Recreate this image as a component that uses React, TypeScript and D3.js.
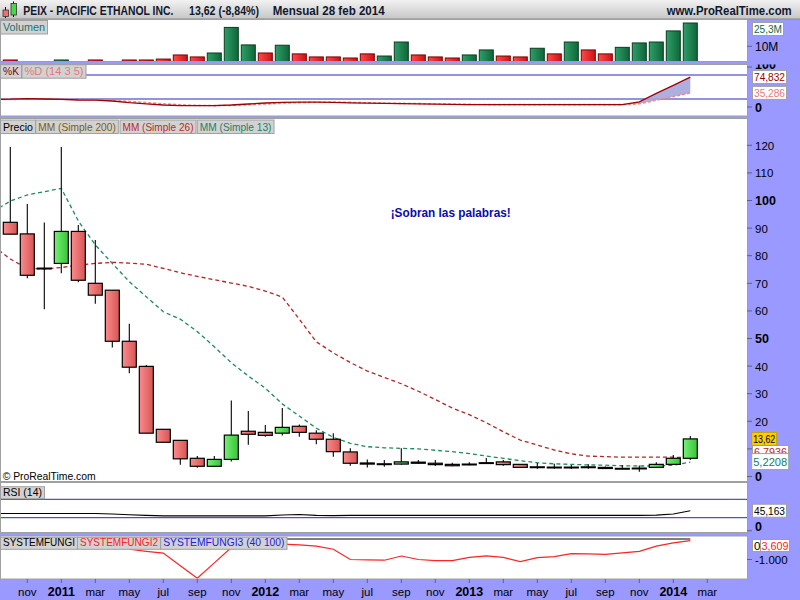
import React from "react";
import * as d3 from "d3";

// ---- DATA (monthly, oct 2010 .. feb 2014) ----
const openP = [92.1, 87.9, 75.5, 77.2, 88.8, 70.0, 67.5, 49.0, 39.9, 17.1, 13.1, 6.6, 3.7, 6.2, 16.4, 16.0, 15.7, 18.2, 15.7, 13.5, 8.9, 4.9, 4.5, 4.5, 5.2, 4.8, 4.4, 4.2, 4.9, 5.3, 4.4, 3.3, 3.4, 3.2, 3.5, 3.3, 2.85, 2.85, 3.3, 4.4, 6.6];
const highP = [119.4, 98.7, 92.0, 119.4, 91.1, 85.7, 67.5, 55.3, 40.4, 17.1, 13.1, 7.4, 7.4, 27.5, 23.7, 18.7, 24.8, 18.8, 16.8, 15.7, 10.2, 6.2, 6.0, 10.2, 6.0, 6.0, 5.0, 5.2, 6.7, 6.0, 4.4, 4.9, 4.6, 4.2, 4.4, 3.6, 4.1, 4.0, 5.2, 7.8, 14.7];
const lowP = [87.8, 71.8, 60.6, 73.6, 70.4, 62.6, 46.7, 37.4, 15.7, 12.4, 4.3, 3.2, 3.4, 5.4, 11.5, 14.4, 14.9, 14.4, 11.7, 7.2, 3.9, 3.3, 3.5, 4.3, 4.6, 3.8, 3.7, 4.1, 4.8, 3.9, 3.3, 2.8, 2.8, 2.7, 2.8, 2.8, 2.7, 1.7, 3.2, 4.4, 6.0];
const closeP = [87.8, 72.9, 75.3, 88.8, 71.1, 65.7, 49.0, 39.6, 15.7, 12.4, 6.4, 3.7, 6.2, 15.0, 15.3, 14.9, 17.8, 16.0, 13.5, 9.0, 4.8, 4.5, 4.6, 5.3, 4.8, 4.3, 3.9, 4.5, 5.0, 4.3, 3.3, 3.5, 3.2, 3.4, 3.2, 2.9, 2.95, 3.05, 4.4, 6.6, 13.62];
const volumeM = [1.0, 0, 0, 1.0, 0, 1.0, 0, 1.0, 1.0, 1.6, 4.3, 3.0, 5.6, 22.4, 10.9, 5.6, 10.7, 5.0, 3.0, 3.0, 2.3, 5.0, 3.6, 12.8, 4.3, 3.0, 2.3, 4.3, 7.6, 3.6, 3.0, 8.7, 5.0, 12.8, 7.6, 5.0, 9.3, 12.2, 12.8, 20.1, 25.3];
// indicator series start one month earlier (sep 2010)
const ma13 = [96, 99.8, 102, 103.2, 104.4, 92.6, 83.9, 77.2, 70.6, 65.1, 59.7, 57, 52.5, 47, 41.2, 36.4, 32, 26.3, 21.9, 17.5, 14.2, 12, 10.8, 10.4, 10.2, 10, 9.5, 9.0, 8.3, 7.4, 6.6, 5.7, 5.0, 4.6, 4.4, 4.2, 4.1, 3.9, 3.8, 3.8, 4.1, 5.22];
const ma26 = [83.5, 78.8, 75.4, 75.2, 75.7, 76.6, 77.2, 77.6, 77.3, 76.9, 75.4, 73.8, 72.5, 71.3, 70.1, 68.9, 67.2, 65.0, 57.0, 48.8, 44.8, 41.3, 38.2, 35.9, 33.6, 30.9, 27.9, 24.8, 22.4, 19.5, 16.2, 13.2, 11.4, 9.6, 8.2, 7.4, 7.2, 7.0, 7.0, 7.0, 7.0, 6.8];
const stochK = [19, 19.5, 21, 20, 19, 17.5, 17, 15, 11, 8, 5, 3.5, 3.3, 3.5, 5, 7.5, 10, 11.5, 12, 12, 11.5, 10.5, 9.5, 9, 8.5, 8, 7, 6.5, 6, 6, 6, 6, 6, 6, 6, 6, 6, 6, 13, 34, 54, 74.832];
const stochD = [19, 19, 19.5, 20, 20, 19, 18, 16.5, 14, 11, 8, 5.5, 4, 3.5, 4, 5.5, 7.5, 9.5, 11, 12, 12, 11.5, 10.5, 9.5, 9, 8.5, 7.5, 7, 6.5, 6, 6, 6, 6, 6, 6, 6, 6, 6, 8, 17, 26, 35.286];
const rsi14 = [39, 39, 39, 39, 39, 39, 39, 38, 36.5, 35, 34, 34, 34, 34, 34, 34, 34, 36, 37, 35, 34.5, 35, 35, 35, 35, 35, 35, 35, 35, 35, 35, 35, 35, 35, 35, 35, 35, 35, 35, 35.5, 38, 45.163];
const fungi1 = [0, 0, 0, 0, 0, 0, 0, 0, 0, 0, 0, 0, 0, 0, 0, 0, 0, 0, 0, 0, 0, 0, 0, 0, 0, 0, 0, 0, 0, 0, 0, 0, 0, 0, 0, 0, 0, 0, 0, 0, 0, 0];
// fungi2 starts at may 2011 (index 7)
const fungi2 = [-500, -600, -685, -1300, -1915, -1165, -420, -250, -230, -250, -290, -350, -500, -1000, -1020, -1035, -830, -1000, -1050, -1050, -900, -820, -900, -1100, -910, -860, -715, -730, -750, -680, -600, -350, -185, -83.609];
const tickIdx = [1, 3, 5, 7, 9, 11, 13, 15, 17, 19, 21, 23, 25, 27, 29, 31, 33, 35, 37, 39, 41];
const tickLabels = ["nov", "2011", "mar", "may", "jul", "sep", "nov", "2012", "mar", "may", "jul", "sep", "nov", "2013", "mar", "may", "jul", "sep", "nov", "2014", "mar"];
const priceTicks = [0, 10, 20, 30, 40, 50, 60, 70, 80, 90, 100, 110, 120];

const FONT = "'Liberation Sans', Arial, sans-serif";
const BLUE = "#9999ff";
const PR = 747;
const PANELS = {
  vol: { top: 19.5, bottom: 61.5 },
  stoch: { top: 64.5, bottom: 116 },
  price: { top: 118.5, bottom: 481.5 },
  rsi: { top: 482.5, bottom: 532.5 },
  sf: { top: 536, bottom: 579 },
};

type Pt = [number, number];

function LabelBox({ x, y, w, h, text, color }: any) {
  return (
    <g>
      <rect x={x} y={y} width={w} height={h} fill="#d2d2d2" stroke="#a0a0a0" strokeWidth={1} />
      <text x={x + 2.5} y={y + h - 3} fontSize={11.5} fill={color} fontFamily={FONT} textLength={w - 5} lengthAdjust="spacingAndGlyphs">{text}</text>
    </g>
  );
}

function ValueBox({ x, cy, w, h = 13, text, color, fill = "#ffffff", stroke = "#a0a0a0" }: any) {
  return (
    <g>
      <rect x={x} y={cy - h / 2} width={w} height={h} fill={fill} stroke={stroke} strokeWidth={1} />
      <text x={x + 1.5} y={cy + 4} fontSize={11.5} fill={color} fontFamily={FONT} textLength={w - 3} lengthAdjust="spacingAndGlyphs">{text}</text>
    </g>
  );
}

export default function App() {
  const x = d3.scaleLinear().domain([0, 40]).range([10.3, 690.3]);
  const yP = d3.scaleLinear().domain([0, 120]).range([476.5, 145.3]);
  const yV = d3.scaleLinear().domain([0, 25.3]).range([61.5, 23]);
  const yS = d3.scaleLinear().domain([0, 100]).range([107, 67]);
  const yR = d3.scaleLinear().domain([0, 100]).range([531.5, 485.5]);
  const yF = d3.scaleLinear().domain([-1000, 0]).range([559.5, 539]);

  const fromM1 = (arr: number[]): Pt[] => arr.map((v, k) => [k - 1, v]);
  const mk = (ys: d3.ScaleLinear<number, number>) => d3.line<Pt>().x((d) => x(d[0])).y((d) => ys(d[1]));

  const lineP = mk(yP);
  const lineS = mk(yS);
  const lineR = mk(yR);
  const lineF = mk(yF);

  const areaKD = d3
    .area<number>()
    .x((k) => x(k - 1))
    .y0((k) => yS(stochD[k]))
    .y1((k) => yS(stochK[k]));
  const kdIdx = d3.range(37, 42);

  const fungi2Pts: Pt[] = fungi2.map((v, k) => [k + 7, v]);

  const panelRect = (p: { top: number; bottom: number }, key: string) => (
    <rect key={key} x={0.5} y={p.top} width={PR} height={p.bottom - p.top} fill="#ffffff" stroke="#a0a0a0" strokeWidth={1} />
  );

  const clip = (id: string, p: { top: number; bottom: number }) => (
    <clipPath id={id} key={id}>
      <rect x={1} y={p.top + 0.5} width={PR - 1} height={p.bottom - p.top - 1} />
    </clipPath>
  );
  const aclip = (id: string, p: { top: number; bottom: number }) => (
    <clipPath id={id} key={id}>
      <rect x={PR} y={p.top} width={800 - PR} height={p.bottom - p.top} />
    </clipPath>
  );

  return (
    <svg width={800} height={600} style={{ position: "fixed", left: 0, top: 0 }} fontFamily={FONT}>
      <defs>
        <linearGradient id="hdr" x1="0" y1="0" x2="0" y2="1">
          <stop offset="0" stopColor="#f2f2f2" />
          <stop offset="1" stopColor="#c6c6c6" />
        </linearGradient>
        <linearGradient id="gRed" x1="0" y1="0" x2="1" y2="0">
          <stop offset="0" stopColor="#fa8c8c" />
          <stop offset="1" stopColor="#d85454" />
        </linearGradient>
        <linearGradient id="gGreen" x1="0" y1="0" x2="1" y2="0">
          <stop offset="0" stopColor="#74f274" />
          <stop offset="1" stopColor="#3ac23a" />
        </linearGradient>
        <linearGradient id="vRed" x1="0" y1="0" x2="1" y2="0">
          <stop offset="0" stopColor="#ff4a4a" />
          <stop offset="1" stopColor="#cc1212" />
        </linearGradient>
        <linearGradient id="vGreen" x1="0" y1="0" x2="1" y2="0">
          <stop offset="0" stopColor="#2f9e68" />
          <stop offset="1" stopColor="#0f6638" />
        </linearGradient>
        {clip("cVol", PANELS.vol)}
        {clip("cStoch", PANELS.stoch)}
        {clip("cPrice", PANELS.price)}
        {clip("cRsi", PANELS.rsi)}
        {clip("cSf", PANELS.sf)}
        {aclip("aStoch", PANELS.stoch)}
        {aclip("aPrice", PANELS.price)}
        {aclip("aRsi", PANELS.rsi)}
      </defs>

      <rect x={0} y={0} width={800} height={600} fill={BLUE} />

      {/* header */}
      <rect x={0} y={0} width={800} height={19} fill="url(#hdr)" />
      <line x1={0} x2={800} y1={19} y2={19} stroke="#8a8a8a" />
      <line x1={5.5} x2={5.5} y1={7} y2={18} stroke="#000" />
      <rect x={3} y={10} width={5.5} height={6.5} fill="#f07070" stroke="#333" strokeWidth={0.8} />
      <line x1={13.5} x2={13.5} y1={1.5} y2={17} stroke="#000" />
      <rect x={11} y={3.5} width={5.5} height={11.5} fill="#4ad84a" stroke="#333" strokeWidth={0.8} />
      <text x={23.3} y={15} fontSize={12} fontWeight="bold" fill="#101830" textLength={150} lengthAdjust="spacingAndGlyphs">PEIX - PACIFIC ETHANOL INC.</text>
      <text x={189} y={15} fontSize={12} fontWeight="bold" fill="#101830" textLength={70} lengthAdjust="spacingAndGlyphs">13,62 (-8,84%)</text>
      <text x={272.7} y={15} fontSize={12} fontWeight="bold" fill="#101830" textLength={112} lengthAdjust="spacingAndGlyphs">Mensual  28 feb 2014</text>
      <text x={666.7} y={15} fontSize={12} fontWeight="bold" fill="#101830" textLength={125} lengthAdjust="spacingAndGlyphs">www.ProRealTime.com</text>

      {/* panels */}
      {panelRect(PANELS.vol, "pv")}
      {panelRect(PANELS.stoch, "ps")}
      {panelRect(PANELS.price, "pp")}
      {panelRect(PANELS.rsi, "pr")}
      {panelRect(PANELS.sf, "pf")}

      {/* volume */}
      <g clipPath="url(#cVol)">
        {volumeM.map((v, i) => {
          if (v <= 0) return null;
          const up = i === 0 ? closeP[i] >= openP[i] : closeP[i] >= closeP[i - 1];
          const y0 = yV(v);
          return (
            <rect key={i} x={x(i) - 7} y={y0} width={14} height={yV(0) - y0} fill={up ? "url(#vGreen)" : "url(#vRed)"} stroke={up ? "#0a3d1f" : "#7a0000"} strokeWidth={1} />
          );
        })}
      </g>
      <LabelBox x={0.5} y={20.5} w={47} h={13.5} text="Volumen" color="#1f6f6f" />
      <line x1={PR} x2={752} y1={yV(10)} y2={yV(10)} stroke="#606080" />
      <text x={755} y={yV(10) + 4.5} fontSize={12} fill="#000">10M</text>
      <ValueBox x={752.5} cy={Math.max(yV(25.3), PANELS.vol.top + 9.5)} w={31} text="25,3M" color="#0f6a4a" />

      {/* stochastic */}
      <g clipPath="url(#cStoch)">
        <line x1={0} x2={PR} y1={yS(80)} y2={yS(80)} stroke="#2828b8" strokeWidth={1} />
        <line x1={0} x2={PR} y1={yS(20)} y2={yS(20)} stroke="#2828b8" strokeWidth={1} />
        <path d={areaKD(kdIdx) || ""} fill="#a4a6dc" opacity={0.9} />
        <path d={lineS(fromM1(stochD)) || ""} fill="none" stroke="#ef8a8a" strokeWidth={1.6} strokeDasharray="3,2" />
        <path d={lineS(fromM1(stochK)) || ""} fill="none" stroke="#a00000" strokeWidth={1.3} />
      </g>
      <LabelBox x={0.5} y={64.7} w={21} h={13.5} text="%K" color="#8a0000" />
      <LabelBox x={22} y={64.7} w={64} h={13.5} text="%D (14 3 5)" color="#e07878" />
      <g clipPath="url(#aStoch)">
        <line x1={PR} x2={752} y1={yS(100)} y2={yS(100)} stroke="#606080" />
        <text x={755} y={yS(100) + 2} fontSize={12.5} fontWeight="bold" fill="#000">100</text>
        <line x1={PR} x2={752} y1={yS(0)} y2={yS(0)} stroke="#606080" />
        <text x={755} y={yS(0) + 4.5} fontSize={12.5} fontWeight="bold" fill="#000">0</text>
      </g>
      <ValueBox x={752.5} cy={yS(74.832)} w={34} text="74,832" color="#a00000" />
      <ValueBox x={752.5} cy={yS(35.286)} w={34} text="35,286" color="#e87878" />

      {/* price */}
      <g clipPath="url(#cPrice)">
        <path d={lineP(fromM1(ma26)) || ""} fill="none" stroke="#b22626" strokeWidth={1.3} strokeDasharray="4,3" />
        <path d={lineP(fromM1(ma13)) || ""} fill="none" stroke="#1f8a5c" strokeWidth={1.3} strokeDasharray="4,3" />
        {openP.map((o, i) => {
          const c = closeP[i];
          const cx = x(i);
          const up = c >= o;
          const yT = yP(Math.max(o, c));
          const yB = yP(Math.min(o, c));
          return (
            <g key={i}>
              <line x1={cx} x2={cx} y1={yP(highP[i])} y2={yP(lowP[i])} stroke="#000" strokeWidth={1.1} />
              <rect x={cx - 7} y={yT} width={14} height={Math.max(yB - yT, 0.8)} fill={up ? "url(#gGreen)" : "url(#gRed)"} stroke="#000" strokeWidth={1.2} />
            </g>
          );
        })}
        <text x={390.7} y={217} fontSize={12.5} fontWeight="bold" fill="#0a0ab4" textLength={120} lengthAdjust="spacingAndGlyphs">¡Sobran las palabras!</text>
        <text x={2.7} y={480} fontSize={11.5} fill="#000" textLength={93} lengthAdjust="spacingAndGlyphs">© ProRealTime.com</text>
      </g>
      <LabelBox x={0.5} y={120} w={35} h={13.5} text="Precio" color="#000" />
      <LabelBox x={35.7} y={120} w={82.6} h={13.5} text="MM (Simple 200)" color="#7a5c10" />
      <LabelBox x={120} y={120} w={76} h={13.5} text="MM (Simple 26)" color="#c02828" />
      <LabelBox x={197.3} y={120} w={76.7} h={13.5} text="MM (Simple 13)" color="#1a7f6a" />
      <g clipPath="url(#aPrice)">
        {priceTicks.map((t) => {
          const bold = t % 50 === 0;
          return (
            <g key={t}>
              <line x1={PR} x2={752} y1={yP(t)} y2={yP(t)} stroke="#606080" />
              {t !== 10 && (
                <text x={755} y={yP(t) + 4.5} fontSize={bold ? 12.5 : 11.5} fontWeight={bold ? "bold" : "normal"} fill="#000">{t}</text>
              )}
            </g>
          );
        })}
      </g>
      <ValueBox x={752.5} cy={452} w={36} text="6,7936" color="#b22626" />
      <ValueBox x={751.7} cy={yP(13.62)} w={25} text="13,62" color="#000" fill="#ffcc00" stroke="#c8a000" />
      <ValueBox x={751.7} cy={yP(5.2208) - 0.5} w={37} h={16} text="5,2208" color="#127a6a" />

      {/* RSI */}
      <g clipPath="url(#cRsi)">
        <line x1={0} x2={PR} y1={yR(70)} y2={yR(70)} stroke="#2828b8" strokeWidth={1} />
        <line x1={0} x2={PR} y1={yR(30)} y2={yR(30)} stroke="#2828b8" strokeWidth={1} />
        <path d={lineR(fromM1(rsi14)) || ""} fill="none" stroke="#000" strokeWidth={1.1} />
      </g>
      <LabelBox x={0.5} y={486.7} w={44} h={12} text="RSI (14)" color="#000" />
      <g clipPath="url(#aRsi)">
        <line x1={PR} x2={752} y1={yR(0) - 0.8} y2={yR(0) - 0.8} stroke="#606080" />
        <text x={755} y={yR(0) - 0.5} fontSize={12.5} fontWeight="bold" fill="#000">0</text>
      </g>
      <ValueBox x={752.5} cy={yR(45.163)} w={34} text="45,163" color="#000" />

      {/* SYSTEMFUNGI */}
      <g clipPath="url(#cSf)">
        <path d={lineF(fromM1(fungi1)) || ""} fill="none" stroke="#000" strokeWidth={1.2} />
        <path d={lineF(fungi2Pts) || ""} fill="none" stroke="#ff2424" strokeWidth={1.2} />
      </g>
      <LabelBox x={0.5} y={537.3} w={77} h={12} text="SYSTEMFUNGI" color="#000" />
      <LabelBox x={77.5} y={537.3} w={83} h={12} text="SYSTEMFUNGI2" color="#ff2020" />
      <LabelBox x={160.7} y={537.3} w={126.3} h={12} text="SYSTEMFUNGI3 (40 100)" color="#2020e0" />
      <line x1={PR} x2={752} y1={yF(-1000)} y2={yF(-1000)} stroke="#606080" />
      <text x={755} y={yF(-1000) + 4.5} fontSize={11.5} fill="#000">-1.000</text>
      <rect x={752.5} y={539.5} width={37} height={12} fill="#fff" stroke="#a0a0a0" />
      <text x={754} y={549.5} fontSize={11.5} fill="#000">0</text>
      <line x1={760.5} x2={760.5} y1={540} y2={551} stroke="#a0a0a0" />
      <text x={761.5} y={549.5} fontSize={11.5} fill="#ff2020" textLength={27} lengthAdjust="spacingAndGlyphs">3,609</text>

      {/* x axis */}
      {tickIdx.map((t, k) => {
        const isYear = /^\d{4}$/.test(tickLabels[k]);
        return (
          <g key={t}>
            <line x1={x(t)} x2={x(t)} y1={579} y2={583} stroke="#606080" />
            <text x={x(t)} y={595.5} textAnchor="middle" fontSize={isYear ? 12.5 : 11.5} fontWeight={isYear ? "bold" : "normal"} fill="#000">
              {tickLabels[k]}
            </text>
          </g>
        );
      })}
    </svg>
  );
}
